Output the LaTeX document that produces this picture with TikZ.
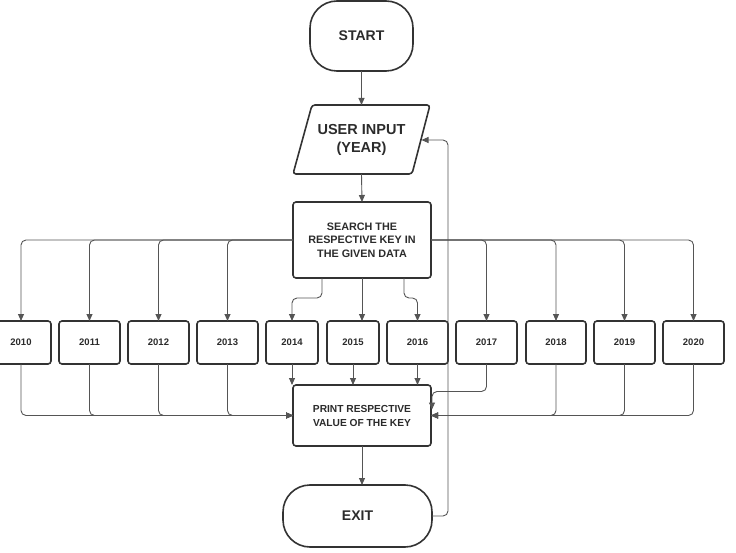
\documentclass[tikz,border=0pt]{standalone}
\usepackage{fontspec}
\setmainfont{Liberation Sans}
\usetikzlibrary{arrows.meta}
\definecolor{boxgray}{HTML}{333333}
\definecolor{linegray}{HTML}{555555}
\definecolor{txt}{HTML}{2B2B2B}
\begin{document}
\begin{tikzpicture}[x=1pt,y=-1pt,
  box/.style={draw=boxgray, line width=1.6pt, rounded corners=3pt, text=txt,
    font=\bfseries, align=center, inner sep=0pt, outer sep=0pt},
  terminal/.style={box, rounded corners=27pt, font=\fontsize{14}{17}\selectfont\bfseries},
  yearbox/.style={box, minimum width=61pt, minimum height=43pt,
    font=\fontsize{9.5}{11}\selectfont\bfseries},
  narrowyear/.style={yearbox, minimum width=52pt},
  conn/.style={draw=linegray, line width=0.9pt, rounded corners=5pt,
    -{Triangle[length=7pt,width=6pt]}}]
\useasboundingbox (0,0) rectangle (736,553);

% terminals and process boxes
\node[terminal, minimum width=103pt, minimum height=70pt] (start) at (361.5,36) {START};
\draw[draw=boxgray, line width=1.6pt, rounded corners=3pt]
  (312,105) -- (430,105) -- (412,174) -- (293,174) -- cycle;
\node[text=txt, font=\fontsize{14.5}{18}\selectfont\bfseries, align=center,
  minimum height=69pt, inner sep=0pt, outer sep=0pt] (input) at (361.5,139.5) {USER INPUT\\(YEAR)};
\coordinate (inputE) at (421.5,140);
\node[box, minimum width=138pt, minimum height=76pt,
  font=\fontsize{10.8}{13.5}\selectfont\bfseries] (search) at (362,240)
  {SEARCH THE\\RESPECTIVE KEY IN\\THE GIVEN DATA};
\node[box, minimum width=138pt, minimum height=61pt,
  font=\fontsize{10.2}{14}\selectfont\bfseries] (print) at (362,415.5)
  {PRINT RESPECTIVE\\VALUE OF THE KEY};
\node[terminal, minimum width=149pt, minimum height=62pt] (exit) at (357.5,516) {EXIT};

% year boxes
\node[yearbox, minimum width=60pt] (y2010) at (21,342.5) {2010};
\node[yearbox] (y2011) at (89.5,342.5) {2011};
\node[yearbox] (y2012) at (158.5,342.5) {2012};
\node[yearbox] (y2013) at (227.5,342.5) {2013};
\node[narrowyear] (y2014) at (292,342.5) {2014};
\node[narrowyear] (y2015) at (353,342.5) {2015};
\node[yearbox] (y2016) at (417.5,342.5) {2016};
\node[yearbox] (y2017) at (486.5,342.5) {2017};
\node[yearbox, minimum width=60pt] (y2018) at (556,342.5) {2018};
\node[yearbox] (y2019) at (624.5,342.5) {2019};
\node[yearbox] (y2020) at (693.5,342.5) {2020};

% main flow
\draw[conn] (start.south) -- (input.north);
\draw[conn] (input.south) -- (search.north);
\draw[conn] (print.south) -- (print.south |- exit.north);

% branches out of the search box
\foreach \y in {y2010,y2011,y2012,y2013}
  \draw[conn] (search.west) -| (\y.north);
\foreach \y in {y2017,y2018,y2019,y2020}
  \draw[conn] (search.east) -| (\y.north);
\draw[conn] ([xshift=-40pt]search.south) -- ++(0,20) -| (y2014.north);
\draw[conn] (search.south) -- (search.south |- y2015.north);
\draw[conn] ([xshift=42pt]search.south) -- ++(0,20) -| (y2016.north);

% branches into the print box
\foreach \y in {y2010,y2011,y2012,y2013}
  \draw[conn] (\y.south) |- (print.west);
\foreach \y in {y2018,y2019,y2020}
  \draw[conn] (\y.south) |- (print.east);
\draw[conn] (y2014.south) -- (print.north -| y2014.south);
\draw[conn] (y2015.south) -- (print.north -| y2015.south);
\draw[conn] (y2016.south) -- (print.north -| y2016.south);
\draw[conn] (y2017.south) |- ([xshift=1pt,yshift=24pt]print.east)
  -- ([xshift=1pt,yshift=6pt]print.east);

% loop back to the input
\coordinate (loopc) at (448,140);
\draw[conn] (exit.east) -| (loopc) -- (inputE);
\end{tikzpicture}
\end{document}
